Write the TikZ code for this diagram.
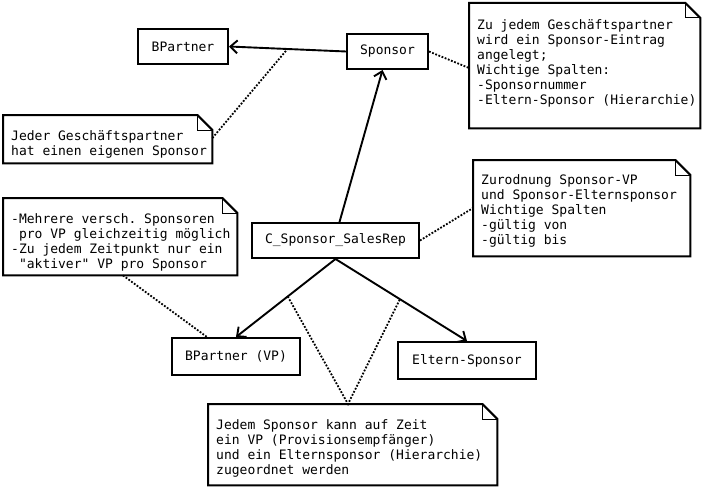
\documentclass[tikz,border=0pt]{standalone}
\usepackage{fontspec}
\usepackage{array}
\newfontfamily\mono{DejaVu Sans Mono}
\setmonofont{DejaVu Sans Mono}
\usetikzlibrary{arrows.meta}
\newcommand\monofs{\mono\fontsize{13}{15}\selectfont\spaceskip=\fontcharwd\font`M\relax\xspaceskip=\spaceskip}
\newcolumntype{M}{>{\monofs}l}
\newcommand\notetext[2]{\raisebox{#1}[\height][\depth]{\begin{tabular}{@{}M@{}}#2\end{tabular}}}
\begin{document}
\begin{tikzpicture}[x=1pt,y=-1pt,
  every node/.style={font=\monofs},
  entity/.style={draw,line width=2pt,inner sep=0pt,minimum height=35pt},
  note/.style={inner xsep=8pt,inner ysep=0pt,align=left,anchor=north west},
  assoc/.style={line width=1.9pt,-{Straight Barb[length=7pt,width=13pt,line width=1.9pt]}},
  link/.style={line width=1.8pt,dash pattern=on 1.8pt off 1.6pt},
  noteline/.style={line width=2pt,line join=miter},
  foldline/.style={line width=1pt}]
\useasboundingbox[fill=white] (0,0) rectangle (703,487);

% entities
\node[entity,minimum width=90pt] (bp) at (183,46.5) {BPartner};
\node[entity,minimum width=81pt] (sp) at (387.5,51.5) {Sponsor};
\node[entity,minimum width=167pt] (cs) at (335.5,240.5) {C\_Sponsor\_SalesRep};
\node[entity,minimum width=128pt,minimum height=37pt] (vp) at (236,356.5) {BPartner (VP)};
\node[entity,minimum width=138pt,minimum height=37pt] (el) at (467,360.5) {Eltern-Sponsor};

% notes
\node[note,text width=215pt,minimum height=125pt] (n1) at (469,3)
  {\notetext{1.5pt}{Zu jedem Geschäftspartner\\wird ein Sponsor-Eintrag\\angelegt;\\Wichtige Spalten:\\-Sponsornummer\\-Eltern-Sponsor (Hierarchie)}};
\node[note,text width=193pt,minimum height=48pt] (n2) at (3,115)
  {\notetext{-5.5pt}{Jeder Geschäftspartner\\hat einen eigenen Sponsor}};
\node[note,text width=218pt,minimum height=77pt] (n3) at (3,198)
  {\notetext{-6pt}{-Mehrere versch. Sponsoren\\\ pro VP gleichzeitig möglich\\-Zu jedem Zeitpunkt nur ein\\\ "aktiver" VP pro Sponsor}};
\node[note,text width=201pt,minimum height=96pt] (n4) at (473,160)
  {\notetext{-3pt}{Zurodnung Sponsor-VP\\und Sponsor-Elternsponsor\\Wichtige Spalten\\-gültig von\\-gültig bis}};
\node[note,text width=273pt,minimum height=81pt] (n5) at (208,404)
  {\notetext{-4.5pt}{Jedem Sponsor kann auf Zeit\\ein VP (Provisionsempfänger)\\und ein Elternsponsor (Hierarchie)\\zugeordnet werden}};

\foreach \n in {n1,n2,n3,n4,n5} {
  \draw[noteline] (\n.north west) -- ([xshift=-15pt]\n.north east) -- ([yshift=-15pt]\n.north east) -- (\n.south east) -- (\n.south west) -- cycle;
  \draw[foldline] ([xshift=-15pt]\n.north east) |- ([yshift=-15pt]\n.north east);
}

% associations
\draw[assoc] (sp.west) -- coordinate[pos=0.5] (a1) (bp.east);
\draw[assoc] ([xshift=4pt]cs.north) -- ([xshift=-5pt]sp.south);
\draw[assoc] (cs.south) -- coordinate[pos=0.48] (a2) (vp.north);
\draw[assoc] (cs.south) -- coordinate[pos=0.49] (a3) (el.north);

% note links
\draw[link] ([yshift=-23pt]n2.north east) -- (a1);
\draw[link] (sp.east) -- ([yshift=-65pt]n1.north west);
\draw[link] (cs.east) -- ([yshift=-48pt]n4.north west);
\draw[link] ([xshift=120pt]n3.south west) -- ([xshift=-29pt]vp.north);
\draw[link] (a2) -- ([xshift=140pt]n5.north west) -- (a3);
\end{tikzpicture}
\end{document}
